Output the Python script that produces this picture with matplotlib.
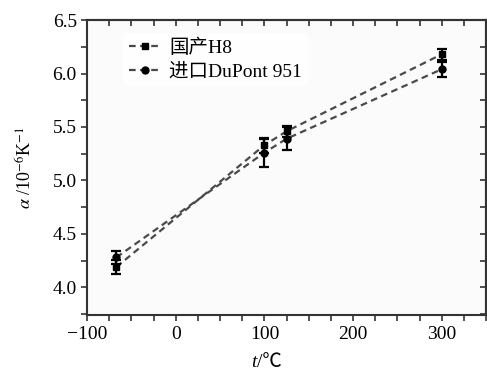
import matplotlib
matplotlib.use('Agg')
import matplotlib.pyplot as plt
from matplotlib.ticker import MultipleLocator

plt.rcParams['font.family'] = ['Liberation Serif', 'Noto Sans CJK SC']
plt.rcParams['mathtext.fontset'] = 'stix'

# temperature points
t = [-67, 100, 125, 300]
# 国产H8
h8 = [4.19, 5.33, 5.46, 6.18]
h8_err = [0.07, 0.07, 0.05, 0.05]
# 进口DuPont 951
dp = [4.28, 5.26, 5.39, 6.04]
dp_err = [0.06, 0.13, 0.11, 0.07]
labels = ['国产H8', '进口DuPont 951']

fig = plt.figure(figsize=(4.87, 3.72), dpi=100)
ax = fig.add_axes([0.179, 0.153, 0.819, 0.793])
ax.set_facecolor('#fbfbfb')

for y, e, m, lab in [(h8, h8_err, 's', labels[0]), (dp, dp_err, 'o', labels[1])]:
    ax.plot(t, y, color='#4a4a4a', lw=1.6, dashes=(3, 2), marker=m, ms=5,
            mfc='black', mec='black', label=lab)
    ax.errorbar(t, y, yerr=e, fmt='none', ecolor='black', elinewidth=1.6,
                capsize=3.5, capthick=1.6)

ax.set_xlim(-100, 350)
ax.set_ylim(3.74, 6.5)
ax.xaxis.set_minor_locator(MultipleLocator(25))
ax.yaxis.set_minor_locator(MultipleLocator(0.25))
ax.set_yticks([4.0, 4.5, 5.0, 5.5, 6.0, 6.5])
ax.set_yticklabels(['4.0', '4.5', '5.0', '5.5', '6.0', '6.5'])
ax.set_xticks([-100, 0, 100, 200, 300])
ax.set_xticklabels(['\u2212100', '0', '100', '200', '300'])
ax.tick_params(which='both', direction='out', color='#333333', labelsize=14,
               width=1.2, length=4)
for s in ax.spines.values():
    s.set_color('#333333')
    s.set_linewidth(1.5)

# mirrored ticks on top and right, pointing inward
top = ax.secondary_xaxis('top')
top.xaxis.set_major_locator(MultipleLocator(25))
top.tick_params(direction='in', length=4, width=1.2, color='#333333', labeltop=False)
right = ax.secondary_yaxis('right')
right.yaxis.set_major_locator(MultipleLocator(0.25))
right.tick_params(direction='in', length=4, width=1.2, color='#333333', labelright=False)
for sa in (top, right):
    for s in sa.spines.values():
        s.set_color('#333333')
        s.set_linewidth(1.5)

ax.set_ylabel(r'$\alpha$ /10$^{-6}$K$^{-1}$', fontsize=13)
ax.yaxis.set_label_coords(-0.128, 0.5)

# x label: italic t then /℃
fig.text(0.527, 0.003, 't', fontsize=14, style='italic', ha='right', va='bottom')
fig.text(0.527, 0.003, '/℃', fontsize=14, family=['Liberation Serif', 'Noto Sans CJK SC'],
         ha='left', va='bottom')

leg = ax.legend(loc='upper left', bbox_to_anchor=(0.065, 0.99), frameon=True,
                fontsize=14, handlelength=1.7, handletextpad=0.4,
                labelspacing=0.3, borderpad=0.3)
leg.get_frame().set_facecolor('white')
leg.get_frame().set_edgecolor('none')

fig.savefig('out.png', dpi=100)
